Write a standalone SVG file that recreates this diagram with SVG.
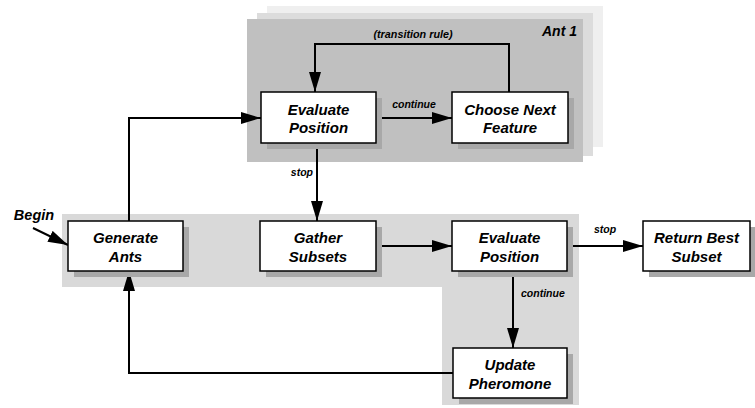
<svg xmlns="http://www.w3.org/2000/svg" width="755" height="408" viewBox="0 0 755 408">
<style>
.box{fill:#fff;stroke:#000;stroke-width:1.5}
.sh{fill:#a8a8a8}
.t{font-family:"Liberation Sans",Arial,sans-serif;font-weight:bold;font-style:italic;font-size:15px;text-anchor:middle;fill:#000}
.s{font-family:"Liberation Sans",Arial,sans-serif;font-weight:bold;font-style:italic;font-size:10.5px;fill:#000}
.ln{fill:none;stroke:#000;stroke-width:2}
</style>
<defs>
<marker id="ah" viewBox="0 0 20 12" refX="20" refY="6" markerWidth="20" markerHeight="12" markerUnits="userSpaceOnUse" orient="auto">
<path d="M0,0 L20,6 L0,12 Z" fill="#000"/>
</marker>
</defs>
<rect width="755" height="408" fill="#fff"/>
<g id="panels">
<rect x="267" y="6" width="336" height="141" fill="#efefef"/>
<rect x="257" y="13" width="336" height="143" fill="#dcdcdc"/>
<rect x="247" y="19" width="336" height="143" fill="#c0c0c0"/>
<polygon points="62,214 579,214 579,405 442,405 442,287 62,287" fill="#d9d9d9"/>
<text class="t" x="577" y="36" style="text-anchor:end;font-size:14px">Ant 1</text>
</g>
<g id="connectors">
<polyline class="ln" points="129,221 129,118 261,118" marker-end="url(#ah)"/>
<line class="ln" x1="376" y1="118" x2="452" y2="118" marker-end="url(#ah)"/>
<polyline class="ln" points="509,92 509,44 315,44 315,92" marker-end="url(#ah)"/>
<line class="ln" x1="317" y1="143" x2="317" y2="221" marker-end="url(#ah)"/>
<line class="ln" x1="376" y1="246" x2="452" y2="246" marker-end="url(#ah)"/>
<line class="ln" x1="567" y1="246" x2="643" y2="246" marker-end="url(#ah)"/>
<line class="ln" x1="513" y1="271" x2="513" y2="348" marker-end="url(#ah)"/>
<polyline class="ln" points="453,373 129,373 129,271" marker-end="url(#ah)"/>
<line class="ln" x1="33" y1="228" x2="68" y2="245" marker-end="url(#ah)"/>
<text class="s" x="413" y="38" text-anchor="middle" style="font-size:10.8px">(transition rule)</text>
<text class="s" x="414" y="108" text-anchor="middle">continue</text>
<text class="s" x="313" y="176" text-anchor="end">stop</text>
<text class="s" x="605" y="233" text-anchor="middle">stop</text>
<text class="s" x="521" y="297">continue</text>
<text class="t" x="34" y="220" style="font-size:14.5px">Begin</text>
</g>
<g id="eval1">
<rect class="sh" x="267" y="98" width="115" height="51"/>
<rect class="box" x="261" y="92" width="115" height="51"/>
<text class="t" x="318.5" y="114.5">Evaluate</text>
<text class="t" x="318.5" y="133">Position</text>
</g>
<g id="choose">
<rect class="sh" x="458" y="98" width="116" height="51"/>
<rect class="box" x="452" y="92" width="116" height="51"/>
<text class="t" x="510" y="114.5">Choose Next</text>
<text class="t" x="510" y="133">Feature</text>
</g>
<g id="generate">
<rect class="sh" x="74" y="227" width="115" height="50"/>
<rect class="box" x="68" y="221" width="115" height="50"/>
<text class="t" x="125.5" y="243">Generate</text>
<text class="t" x="125.5" y="261.5">Ants</text>
</g>
<g id="gather">
<rect class="sh" x="266" y="227" width="116" height="50"/>
<rect class="box" x="260" y="221" width="116" height="50"/>
<text class="t" x="318" y="243">Gather</text>
<text class="t" x="318" y="261.5">Subsets</text>
</g>
<g id="eval2">
<rect class="sh" x="458" y="227" width="115" height="50"/>
<rect class="box" x="452" y="221" width="115" height="50"/>
<text class="t" x="509.5" y="243">Evaluate</text>
<text class="t" x="509.5" y="261.5">Position</text>
</g>
<g id="return">
<rect class="sh" x="649" y="227" width="107" height="50"/>
<rect class="box" x="643" y="221" width="107" height="50"/>
<text class="t" x="696.5" y="243">Return Best</text>
<text class="t" x="696.5" y="261.5">Subset</text>
</g>
<g id="update">
<rect class="sh" x="459" y="354" width="114" height="50"/>
<rect class="box" x="453" y="348" width="114" height="50"/>
<text class="t" x="510" y="370">Update</text>
<text class="t" x="510" y="388.5">Pheromone</text>
</g>
</svg>
